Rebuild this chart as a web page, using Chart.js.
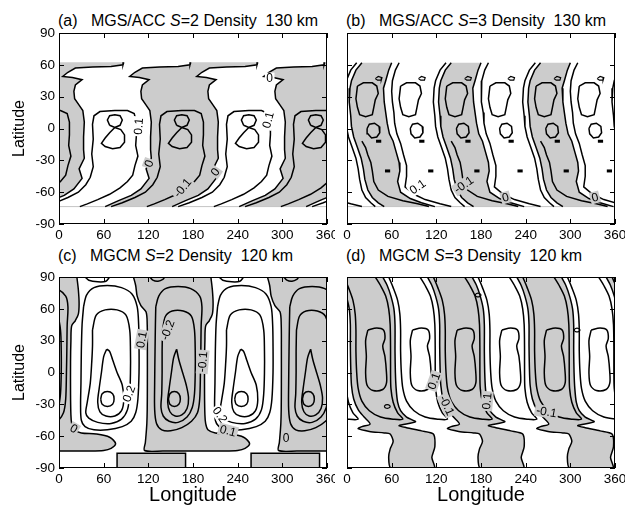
<!DOCTYPE html>
<html>
<head>
<meta charset="utf-8">
<script src="https://cdn.jsdelivr.net/npm/chart.js@4.4.1/dist/chart.umd.min.js"></script>
<style>
  body { margin: 0; background: #fff; }
  #page { position: relative; width: 637px; height: 507px; overflow: hidden;
          font-family: "Liberation Sans", Arial, Helvetica, sans-serif; }
  .ttl { position: absolute; font-size: 16px; line-height: 18px; white-space: pre; color: #000; }
  canvas { position: absolute; }
</style>
</head>
<body>
<div id="page">
  <div class="ttl" style="left:58px;top:12px">(a)   MGS/ACC <i>S</i>=2 Density  130 km</div>
  <div class="ttl" style="left:346px;top:12px">(b)   MGS/ACC <i>S</i>=3 Density  130 km</div>
  <div class="ttl" style="left:58px;top:247px">(c)   MGCM <i>S</i>=2 Density  120 km</div>
  <div class="ttl" style="left:346px;top:247px">(d)   MGCM <i>S</i>=3 Density  120 km</div>
  <canvas id="panelA" width="335" height="230" style="left:0;top:25px"></canvas>
  <canvas id="panelB" width="295" height="230" style="left:330px;top:25px"></canvas>
  <canvas id="panelC" width="335" height="238" style="left:0;top:269px"></canvas>
  <canvas id="panelD" width="295" height="238" style="left:330px;top:269px"></canvas>
</div>
<script>
(function () {
  'use strict';

  // ── Axes ────────────────────────────────────────────────────────────────
  const lonTicks = [0, 60, 120, 180, 240, 300, 360];
  const latTicks = [-90, -60, -30, 0, 30, 60, 90];

  // ── (a) MGS/ACC S=2, 130 km : one 90° unit [lon, lat] ──────────────────
  const aUnits     = [-90, 0, 90, 180, 270, 360];
  const aGrayUnits = [-90, 90, 270];
  const aZero = [[87,62.5],[86,60],[70,58.5],[45,58],[22,57],[12,53],[5,49],[18,48],[31,46],[22,41],
                 [20,35],[21,28],[27,22],[32,17],[34,6],[33,-8],[33,-20],[34,-28],[27,-38],[31,-47],
                 [20,-57],[7,-63],[-10,-68],[-28,-73.6]];
  const aRect = [[-20,-73.6],[-5,-70],[12,-65],[26,-60],[36,-53],[42,-46],[46,-36],[44,-24],[46,-10],
                 [45,4],[47,12],[55,16],[75,17],[92,17],[101,14],[104,6],[104,-6],[103,-16],[106,-26],
                 [102,-35],[99,-44],[92,-50],[82,-56],[68,-62],[52,-67],[38,-71],[28,-73.6]];
  const aLoopUpper = [[68,3],[65,8],[68,12],[75,13],[82,12],[85,8],[82,3],[75,1],[68,3]];
  const aLoopLower = [[75,1],[68,-4],[62,-9],[57,-14],[62,-17],[72,-19],[82,-18],[88,-13],[88,-6],[83,-1],[75,1]];
  const aLabels = [['0.1',107,2,-85],['0',283,47,0],['0.1',281,8,-75],['0',121,-33,-70],
                   ['0',210,-41,-55],['-0.1',166,-56,-50]];

  // ── (b) MGS/ACC S=3, 130 km : one 120° period ──────────────────────────
  const bPeriods = [-120, 0, 120, 240, 360];
  const bWest = [[20,62],[12,55],[6,45],[4,38],[3,25],[5,12],[6,2],[9,-8],[14,-18],[19,-28],[22,-38],
                 [24,-48],[28,-58],[34,-65],[42,-70],[50,-73.6]];
  const bEast = [[60,62],[56,55],[52,45],[49,38],[50,25],[52,15],[54,5],[57,-5],[62,-12],[66,-22],
                 [70,-32],[71,-40],[68,-50],[72,-60],[85,-66],[100,-70],[118,-73.6]];
  const bLineW = [[70,62],[65,55],[61,45],[60,35],[61,25],[63,15],[64,5],[67,-5],[72,-14],[76,-25],
                  [80,-35],[80,-45],[78,-55],[90,-62],[105,-67],[125,-71],[140,-73.6]];
  const bLineW2 = [[13,62],[5,55],[-1,45],[-3,38],[-4,25],[-2,12],[-1,2],[2,-8],[7,-18],[12,-28],
                   [15,-38],[17,-48],[20,-58],[25,-65],[32,-70],[38,-73.6]];
  const bLineG = [[20,-12],[25,-18],[28,-25],[32,-32],[34,-40],[36,-50],[42,-58],[55,-64],[75,-68],
                  [95,-71],[110,-73.6]];
  const bBlob  = [[14,40],[22,43],[34,43],[40,40],[42,33],[38,27],[36,20],[34,13],[25,11],[17,13],
                  [14,20],[12,28],[14,40]];
  const bSmall = [[27,0],[30,4],[37,5],[43,2],[44,-4],[40,-8],[33,-9],[28,-5],[27,0]];
  const bTiny  = [[38,47],[42,49],[47,48],[46,45.5],[41,45.5],[38,47]];
  const bDashUpper = [[39,-12],[46,-12]];
  const bDashLower = [[51,-40],[58,-40]];
  const bBandShifts = [0, 58];
  const bLabels = [['0.1',95,-55,-35],['-0.1',157,-53,-35],['0',213,-65,-15],['0',333,-65,-15]];

  const dataEdge = [[0,-73.6],[360,-73.6]];

  // ── (c) MGCM S=2, 120 km : one 180° period ─────────────────────────────
  const cPeriods = [-180, 0, 180, 360];
  const cZero = [[100,90],[103,82],[105,72],[110,63],[117,57],[118.5,45],[118.7,20],[118.7,-10],
                 [118.5,-35],[118,-48],[117,-58],[116,-66],[115,-73.5],[140,-74],[180,-74],[220,-74],
                 [240,-73.5],[250,-71.5],[256,-67],[248,-61],[230,-58],[210,-57],[200,-54],[197,-48],
                 [196,-40],[195.5,-20],[195.5,10],[196,30],[197,44],[202,49],[206,55],[207,65],
                 [206,78],[204,90]];
  const cBlock = [[78,-90],[78,-76],[170,-76],[170,-90]];
  const cW1 = [[33,62],[37,73],[47,80],[65,82],[84,80],[98,74],[105,62],[107,45],[107.5,25],[107.5,0],
               [106,-25],[103,-38],[97,-46],[85,-51],[65,-54],[47,-54],[35,-51],[30,-45],[29,-30],
               [29.5,-10],[30,20],[31,45],[33,62]];
  const cW2 = [[45,40],[50,54],[62,59],[78,59],[90,54],[95,40],[96,20],[96,0],[95,-20],[92,-35],
               [84,-44],[70,-48],[52,-47],[40,-43],[36,-38],[38,-28],[42,-10],[44,10],[45,25],[45,40]];
  const cW3 = [[64,22],[60,15],[57,0],[54,-15],[52,-28],[55,-37],[63,-41],[75,-41],[84,-36],[87,-26],
               [85,-12],[78,0],[72,12],[68,20],[64,22]];
  const cW4 = [[56,-25],[58,-20],[65,-18],[72,-20],[74,-25],[72,-30],[65,-32],[58,-30],[56,-25]];
  const cG1 = [[130,62],[134,72],[143,79],[160,81],[177,79],[189,72],[192,62],[191,45],[190.5,20],
               [190,0],[189,-25],[186,-38],[178,-46],[165,-52],[150,-55],[138,-54],[131,-48],
               [128.5,-35],[128.5,-10],[129,20],[129.5,45],[130,62]];
  const cG2 = [[139,40],[143,53],[152,58],[167,58],[178,53],[182,40],[183,20],[183,0],[182,-20],
               [179,-33],[172,-42],[160,-47],[148,-46],[140,-41],[137,-33],[138,-20],[138.5,0],
               [138.5,20],[139,40]];
  const cG3 = [[158,22],[154,14],[151,0],[148,-15],[146,-28],[149,-37],[156,-41],[165,-40],[172,-34],
               [174,-24],[171,-12],[166,0],[161,12],[158,22]];
  const cG4 = [[147,-25],[149,-20],[155,-18],[161,-20],[163,-25],[161,-30],[155,-32],[149,-30],[147,-25]];
  const cArcW = [[35,90],[40,87],[52,85.5],[63,86],[68,90]];
  const cArcG = [[122,90],[126,87],[133,86],[140,88],[142,90]];
  const cLabels = [['0.1',111,31,-80],['-0.2',146,40,-70],['-0.1',193,10,-85],['0.2',94,-20,-70],
                   ['0.2',216,-40,55],['0.1',227,-55,15],['0',20,-53,30],['0',305,-62,0]];

  // ── (d) MGCM S=3, 120 km : one 120° period ─────────────────────────────
  const dPeriods = [-120, 0, 120, 240, 360];
  const dGray = [[-12,90],[-6,82],[-1,72],[3,60],[4.5,45],[4.5,25],[5,5],[6,-12],[9,-25],[15,-35],
                 [23,-42],[31,-48.6],[20,-51],[15,-53],[30,-55.5],[50,-57],[58,-58],[62,-65],[58,-72],
                 [56,-80],[59,-90],[117,-90],[114,-80],[118,-70],[116,-58],[100,-55],[80,-52],[70,-50],
                 [92,-46.5],[80,-42],[72,-36],[68,-28],[66,-15],[65,0],[64.5,20],[64.5,45],[63,60],
                 [59,72],[54,82],[48,90]];
  const dLoopOuter = [[-4,90],[2,80],[8,68],[11,55],[12,40],[12,20],[13,0],[15,-15],[20,-27],[30,-36],
                      [45,-42],[62,-44],[75,-44],[68,-38],[62,-28],[59,-15],[58.5,0],[58.5,20],[58,45],
                      [56,60],[52,72],[45,82],[38,90]];
  const dLoopInner = [[28,40],[40,42],[49,40],[51,32],[48,25],[51,15],[53,0],[53,-10],[48,-16],[35,-17],
                      [27,-12],[25,0],[26,15],[25,30],[28,40]];
  const dLobeShifts = [0, 60];
  const dTinyLoops = [[[50,-32],[52,-30.5],[56,-30.5],[58,-32],[56,-33.5],[52,-33.5],[50,-32]],
                      [[110,-13],[112,-11.5],[116,-11.5],[118,-13],[116,-14.5],[112,-14.5],[110,-13]],
                      [[172,73],[174,74.5],[178,74.5],[180,73],[178,71.5],[174,71.5],[172,73]],
                      [[305,40],[307,41.5],[311,41.5],[313,40],[311,38.5],[307,38.5],[305,40]]];
  const dLabels = [['-0.1',134,-31,65],['0.1',188,-27,-85],['-0.1',268,-37,10],['0.1',117,-8,-70]];

  // ── Helpers ──────────────────────────────────────────────────────────────
  const FONT = '"Liberation Sans", Arial, Helvetica, sans-serif';
  const GRAY = '#cccccc';

  const shifted = (arr, dx) => arr.map(p => ({ x: p[0] + dx, y: p[1] }));

  function lineSet(arr, dx, tension, width, color) {
    return {
      data: shifted(arr, dx), showLine: true, fill: false,
      borderColor: color || '#000', borderWidth: width || 1.5,
      pointRadius: 0, tension: tension || 0, order: 1,
    };
  }
  function fillSet(points, tension) {
    return {
      data: points, showLine: true, fill: 'shape', backgroundColor: GRAY,
      borderWidth: 0, pointRadius: 0, tension: tension || 0, order: 2,
    };
  }
  // two boundaries (both listed top→bottom) joined into one closed band
  const band = (left, dl, right, dr) => shifted(left, dl).concat(shifted(right, dr).reverse());

  function pickBg(ctx, px, py, r) {
    const nx = -Math.sin(r), ny = Math.cos(r);
    for (const d of [8, -8, 11, -11]) {
      const p = ctx.getImageData(Math.round(px + nx * d), Math.round(py + ny * d), 1, 1).data;
      if (p[0] > 150) return p[0] > 225 ? '#ffffff' : GRAY;
    }
    return '#ffffff';
  }

  // contour labels, frame and inward ticks
  const framePlugin = {
    id: 'frame',
    afterDatasetsDraw(chart, args, opts) {
      const { ctx, chartArea: a } = chart;
      const xs = chart.scales.x, ys = chart.scales.y;
      ctx.save();
      ctx.font = '12px ' + FONT;
      ctx.textAlign = 'center';
      ctx.textBaseline = 'middle';
      (opts.labels || []).forEach(([txt, lon, lat, deg]) => {
        const px = xs.getPixelForValue(lon), py = ys.getPixelForValue(lat);
        const r = deg * Math.PI / 180;
        const w = ctx.measureText(txt).width + 3;
        const bg = pickBg(ctx, px, py, r);
        ctx.save();
        ctx.translate(px, py);
        ctx.rotate(r);
        ctx.fillStyle = bg;
        ctx.fillRect(-w / 2, -6, w, 12);
        ctx.fillStyle = '#000';
        ctx.fillText(txt, 0, 0.5);
        ctx.restore();
      });

      ctx.strokeStyle = '#000';
      ctx.lineWidth = 1;
      ctx.strokeRect(a.left + 0.5, a.top + 0.5, a.right - a.left - 1, a.bottom - a.top - 1);
      ctx.beginPath();
      lonTicks.forEach(v => {
        const px = Math.round(xs.getPixelForValue(v)) + 0.5;
        ctx.moveTo(px, a.bottom); ctx.lineTo(px, a.bottom - 5);
        ctx.moveTo(px, a.top);    ctx.lineTo(px, a.top + 5);
      });
      latTicks.forEach(v => {
        const py = Math.round(ys.getPixelForValue(v)) + 0.5;
        ctx.moveTo(a.left, py);  ctx.lineTo(a.left + 5, py);
        ctx.moveTo(a.right, py); ctx.lineTo(a.right - 5, py);
      });
      ctx.stroke();
      ctx.restore();
    },
  };

  function makeChart(id, cfg) {
    new Chart(document.getElementById(id), {
      type: 'scatter',
      data: { datasets: cfg.datasets },
      options: {
        responsive: false, animation: false, events: [],
        layout: { padding: { top: 8, right: cfg.padRight, left: 0, bottom: 0 } },
        elements: { point: { radius: 0 } },
        plugins: { legend: { display: false }, tooltip: { enabled: false }, frame: { labels: cfg.labels } },
        scales: {
          x: {
            type: 'linear', min: 0, max: 360,
            grid: { display: false, drawTicks: false }, border: { display: false },
            afterBuildTicks: s => { s.ticks = lonTicks.map(v => ({ value: v })); },
            ticks: { font: { size: 13.5, family: FONT }, color: '#000', padding: 3,
                     maxRotation: 0, autoSkip: false, callback: v => String(v) },
            title: { display: cfg.xTitle, text: 'Longitude', color: '#000',
                     font: { size: 20, family: FONT }, padding: { top: 0, bottom: 0 } },
            afterFit: s => { s.height = cfg.xAxisH; s.paddingLeft = 0; s.paddingRight = 0; },
          },
          y: {
            type: 'linear', min: -90, max: 90,
            grid: { display: false, drawTicks: false }, border: { display: false },
            afterBuildTicks: s => { s.ticks = latTicks.map(v => ({ value: v })); },
            ticks: { display: cfg.yLabels, font: { size: 13.5, family: FONT }, color: '#000',
                     padding: 4, autoSkip: false, callback: v => String(v) },
            title: { display: cfg.yLabels, text: 'Latitude', color: '#000',
                     font: { size: 16, family: FONT }, padding: { top: 10, bottom: 0 } },
            afterFit: s => { s.width = cfg.yAxisW; s.paddingTop = 0; s.paddingBottom = 0; },
          },
        },
      },
      plugins: [framePlugin],
    });
  }

  // ── Panel (a) ────────────────────────────────────────────────────────────
  const aSets = [];
  aGrayUnits.forEach(o => aSets.push(fillSet(band(aZero, o, aZero, o + 90))));
  aUnits.forEach(o => {
    [aZero, aRect, aLoopUpper, aLoopLower].forEach(arr => aSets.push(lineSet(arr, o)));
  });
  aSets.push(lineSet(dataEdge, 0, 0, 1, '#c4c4c4'));
  makeChart('panelA', { datasets: aSets, labels: aLabels, padRight: 8, yAxisW: 59, xAxisH: 31,
                        yLabels: true, xTitle: false });

  // ── Panel (b) ────────────────────────────────────────────────────────────
  const bSets = [];
  bPeriods.forEach(o => bSets.push(fillSet(band(bWest, o, bEast, o))));
  bPeriods.forEach(o => {
    [bWest, bEast, bLineW, bLineW2, bLineG].forEach(arr => bSets.push(lineSet(arr, o)));
    bBandShifts.forEach(s => {
      bSets.push(lineSet(bBlob, o + s));
      bSets.push(lineSet(bSmall, o + s));
      bSets.push(lineSet(bTiny, o + s, 0, 1.2));
      bSets.push(lineSet(bDashUpper, o + s, 0, 3));
      bSets.push(lineSet(bDashLower, o + s, 0, 3));
    });
  });
  bSets.push(lineSet(dataEdge, 0, 0, 1, '#c4c4c4'));
  makeChart('panelB', { datasets: bSets, labels: bLabels, padRight: 10, yAxisW: 17, xAxisH: 31,
                        yLabels: false, xTitle: false });

  // ── Panel (c) ────────────────────────────────────────────────────────────
  const cSets = [];
  cPeriods.forEach(o => {
    cSets.push(fillSet(shifted(cZero, o), 0.3));
    cSets.push(fillSet(shifted(cBlock, o), 0));
  });
  cPeriods.forEach(o => {
    cSets.push(lineSet(cZero, o, 0.3));
    cSets.push(lineSet(cBlock, o, 0));
    [cW1, cW2, cW3, cW4, cG1, cG2, cG3, cG4, cArcW, cArcG].forEach(arr => cSets.push(lineSet(arr, o, 0.3)));
  });
  makeChart('panelC', { datasets: cSets, labels: cLabels, padRight: 8, yAxisW: 59, xAxisH: 39,
                        yLabels: true, xTitle: true });

  // ── Panel (d) ────────────────────────────────────────────────────────────
  const dSets = [];
  dPeriods.forEach(o => dSets.push(fillSet(shifted(dGray, o), 0.25)));
  dPeriods.forEach(o => {
    dSets.push(lineSet(dGray, o, 0.25));
    dLobeShifts.forEach(s => {
      dSets.push(lineSet(dLoopOuter, o + s, 0.3));
      dSets.push(lineSet(dLoopInner, o + s, 0.3));
    });
  });
  dTinyLoops.forEach(arr => dSets.push(lineSet(arr, 0, 0.4, 1.2)));
  makeChart('panelD', { datasets: dSets, labels: dLabels, padRight: 10, yAxisW: 17, xAxisH: 39,
                        yLabels: false, xTitle: true });
})();
</script>
</body>
</html>
